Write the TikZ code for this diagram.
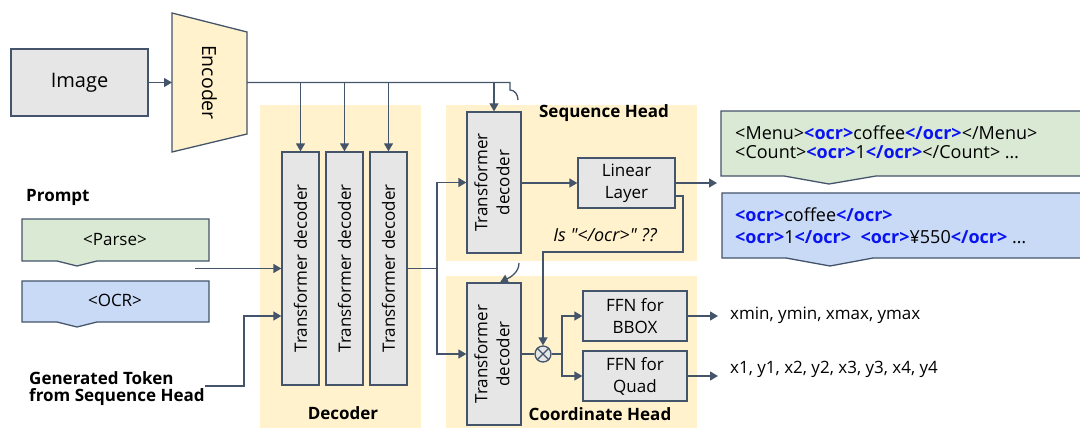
\documentclass[tikz,border=0pt]{standalone}
\usepackage{fontspec}
\setmainfont{Open Sans}
\newfontfamily\osq{Open Sans}
\usetikzlibrary{arrows.meta,calc}
\definecolor{lineC}{HTML}{44546A}
\definecolor{grayF}{HTML}{E7E6E6}
\definecolor{yelF}{HTML}{FFF2CC}
\definecolor{greenF}{HTML}{DAE9D4}
\definecolor{blueF}{HTML}{C8DAF6}
\definecolor{ocrB}{HTML}{0A14F0}
\tikzset{
  ln/.style={draw=lineC, line width=1.3pt},
  arr/.style={ln, -{Triangle[length=8pt,width=9pt]}},
  gbox/.style={draw=lineC, line width=1.3pt, fill=grayF, inner sep=0pt, align=center, font=\fontsize{17}{22}\selectfont},
  bgfill/.style={fill=yelF, draw=none},
  lbl/.style={font=\bfseries\fontsize{17}{18}\selectfont, inner sep=0pt},
  txt/.style={font=\fontsize{17}{20}\selectfont, inner sep=0pt},
  callout/.style={draw=lineC, line width=1.3pt},
}
\newcommand\ocrtag[1]{\textcolor{ocrB}{\bfseries #1}}
\begin{document}
\begin{tikzpicture}[x=1pt,y=-1pt]
\useasboundingbox (0,0) rectangle (1080,428);
\clip (0,0) rectangle (1080,428);
% backgrounds
\fill[bgfill] (260,105) rectangle (421,428);
\fill[bgfill] (446,105) rectangle (697,261);
\fill[bgfill] (446,276) rectangle (697,428);
% image and encoder
\node[gbox, minimum width=137pt, minimum height=67pt, font=\fontsize{20}{22}\selectfont] (img) at (79.5,82.5) {Image};
\filldraw[fill=yelF, draw=lineC, line width=1.3pt] (172,13) -- (247,32) -- (247,134) -- (172,152) -- cycle;
\node[txt, font=\fontsize{19.5}{22}\selectfont, rotate=-90] (enc) at (209.5,82.5) {Encoder};
\coordinate (encL) at (172,82.5);
\coordinate (encR) at (247,82.5);
\draw[arr] (img.east) -- (encL);
% decoder columns
\node[gbox, minimum width=37pt, minimum height=233pt] (td1) at (300.5,268.5) {\rotatebox{90}{Transformer decoder}};
\node[gbox, minimum width=37pt, minimum height=233pt] (td2) at (344.5,268.5) {\rotatebox{90}{Transformer decoder}};
\node[gbox, minimum width=37pt, minimum height=233pt] (td3) at (388.5,268.5) {\rotatebox{90}{Transformer decoder}};
% heads
\node[gbox, minimum width=54pt, minimum height=141pt] (std) at (494,182.5) {\rotatebox{90}{\begin{tabular}{@{}c@{}}Transformer\\decoder\end{tabular}}};
\node[gbox, minimum width=54pt, minimum height=142pt] (ctd) at (494,354) {\rotatebox{90}{\begin{tabular}{@{}c@{}}Transformer\\decoder\end{tabular}}};
\node[gbox, minimum width=97pt, minimum height=50pt] (lin) at (626.5,183) {Linear\\Layer};
\node[gbox, minimum width=104pt, minimum height=50pt] (ffnb) at (635,316) {FFN for\\BBOX};
\node[gbox, minimum width=104pt, minimum height=50pt] (ffnq) at (635,376) {FFN for\\Quad};
\node[circle, draw=lineC, line width=1.3pt, fill=grayF, minimum size=16pt, inner sep=0pt] (ox) at (543,354) {};
\draw[ln] (ox.north west) -- (ox.south east);
\draw[ln] (ox.north east) -- (ox.south west);
% labels
\node[lbl] (declbl) at (343,413) {Decoder};
\node[lbl] (seqlbl) at (604,113) {Sequence Head};
\node[lbl] (coolbl) at (600,414) {Coordinate Head};
\node[txt, font=\osq\itshape\fontsize{18}{20}\selectfont] (isocr) at (605,235) {Is "</ocr>" ??};
% encoder line
\coordinate (hopA) at (510,82.5);
\coordinate (hopB) at (510,90);
\coordinate (hopC) at (518,100);
\draw[ln] (encR) -- (hopA) -- (hopB) .. controls (515,90) and (518,95) .. (hopC);
\draw[arr] (td1.north |- encR) -- (td1.north);
\draw[arr] (td2.north |- encR) -- (td2.north);
\draw[arr] (td3.north |- encR) -- (td3.north);
\draw[arr] (std.north |- encR) -- (std.north);
\coordinate (hopD) at (519,263);
\draw[arr] (hopD) .. controls (519,272) and (511,277) .. ($(ctd.north)+(6,0)$);
% decoder output
\coordinate (split) at (437,268.5);
\draw[ln] (td3.east) -- (split);
\draw[arr] (split) |- (std.west);
\draw[arr] (split) |- (ctd.west);
% sequence head
\draw[arr] (std.east |- lin.west) -- (lin.west);
\coordinate (seqout) at (717,183);
\draw[arr] (lin.east) -- (seqout);
\coordinate (loopA) at (683,196);
\draw[arr] (lin.east |- loopA) -- (loopA) -- (683,252) -| (ox.north);
% coordinate head
\draw[ln] (ctd.east) -- (ox.west);
\coordinate (br) at (562,354);
\draw[ln] (ox.east) -- (br);
\draw[arr] (br) |- (ffnb.west);
\draw[arr] (br) |- (ffnq.west);
\coordinate (bout) at (718,316);
\coordinate (qout) at (718,376);
\draw[arr] (ffnb.east) -- (bout);
\draw[arr] (ffnq.east) -- (qout);
\node[txt, anchor=west] (btxt) at (730,315) {xmin, ymin, xmax, ymax};
\node[txt, anchor=west] (qtxt) at (730,369) {x1, y1, x2, y2, x3, y3, x4, y4};
% outputs
\filldraw[callout, fill=greenF] (721,111) -- (1086,111) -- (1086,176) -- (876,176) -- (829,184) -- (784,176) -- (721,176) -- cycle;
\node[txt, anchor=west, align=left, font=\fontsize{18}{19}\selectfont] (gtxt) at (735,142.5) {<Menu>\ocrtag{<ocr>}coffee\ocrtag{</ocr>}</Menu>\\<Count>\ocrtag{<ocr>}1\ocrtag{</ocr>}</Count> \ldots};
\filldraw[callout, fill=blueF] (722,193) -- (1086,193) -- (1086,258) -- (873,258) -- (830,266) -- (786,258) -- (722,258) -- cycle;
\node[txt, anchor=west, align=left, font=\fontsize{18}{22}\selectfont] (btxt2) at (735,226) {\ocrtag{<ocr>}coffee\ocrtag{</ocr>}\\\ocrtag{<ocr>}1\ocrtag{</ocr>}\ \ \ocrtag{<ocr>}¥550\ocrtag{</ocr>} \ldots};
% prompt
\node[lbl, anchor=west] (prompt) at (26,197) {Prompt};
\filldraw[callout, fill=greenF] (22,219) -- (209,219) -- (209,261) -- (97,261) -- (77,266) -- (57,261) -- (22,261) -- cycle;
\node[txt] (parse) at (115,240) {<Parse>};
\filldraw[callout, fill=blueF] (22,281) -- (209,281) -- (209,322) -- (97,322) -- (77,327) -- (57,322) -- (22,322) -- cycle;
\node[txt] (ocrp) at (115,300) {<OCR>};
\coordinate (pin) at (195,268.5);
\draw[arr] (pin) -- (pin -| td1.west);
\node[lbl, anchor=west, align=left, font=\bfseries\fontsize{17}{17}\selectfont] (gen) at (29,388.5) {Generated Token\\from Sequence Head};
\coordinate (genA) at (205,386);
\coordinate (genB) at (244,316);
\draw[arr] (genA) -| (genB) -- (genB -| td1.west);
\end{tikzpicture}
\end{document}
